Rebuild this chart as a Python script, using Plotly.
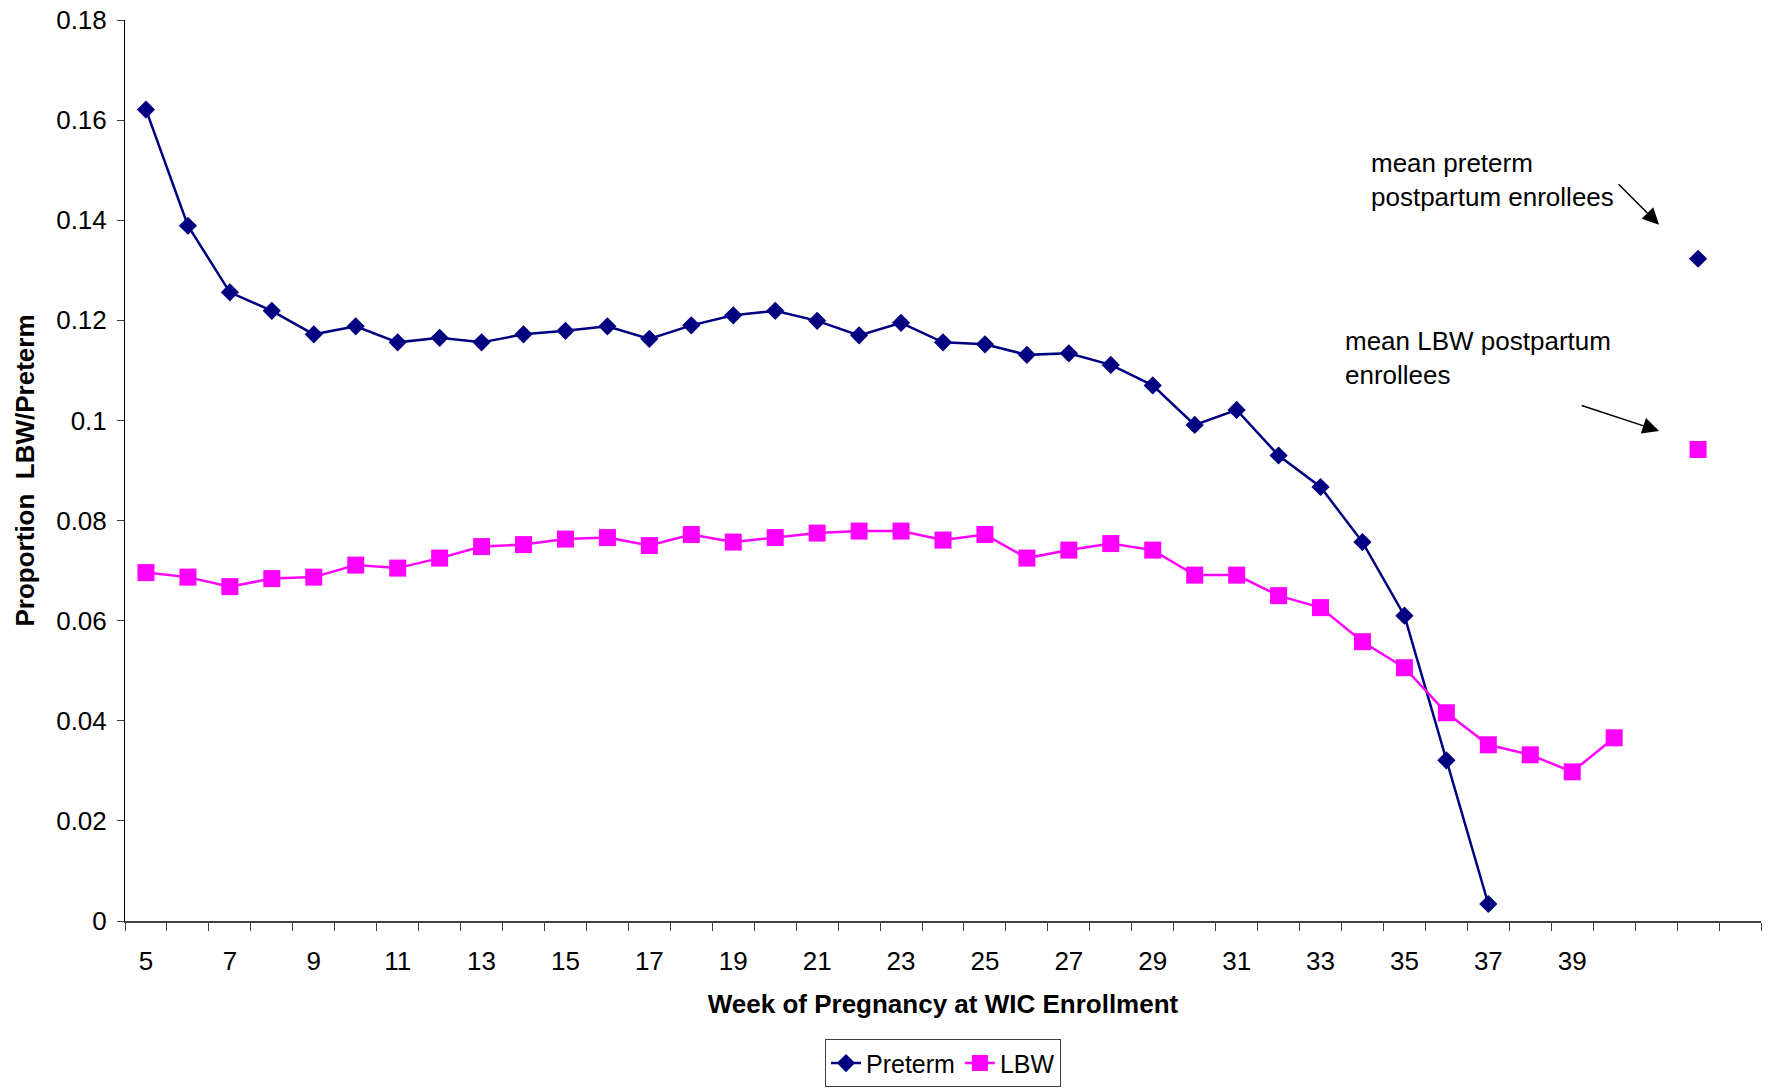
import plotly.graph_objects as go

# Week of pregnancy at WIC enrollment
weeks_preterm = list(range(5, 38))
preterm = [0.1621, 0.1389, 0.1256, 0.1219, 0.1172, 0.1188, 0.1156, 0.1165, 0.1156, 0.1172,
           0.1179, 0.1188, 0.1163, 0.1190, 0.1210, 0.1219, 0.1199, 0.1170, 0.1195, 0.1156,
           0.1152, 0.1131, 0.1134, 0.1111, 0.1070, 0.0991, 0.1021, 0.0930, 0.0867, 0.0757,
           0.0610, 0.0321, 0.0034]

weeks_lbw = list(range(5, 41))
lbw = [0.0696, 0.0687, 0.0668, 0.0684, 0.0687, 0.0711, 0.0705, 0.0725, 0.0748, 0.0752,
       0.0763, 0.0766, 0.0750, 0.0772, 0.0757, 0.0766, 0.0775, 0.0779, 0.0779, 0.0761,
       0.0772, 0.0725, 0.0741, 0.0754, 0.0741, 0.0691, 0.0691, 0.0650, 0.0626, 0.0558,
       0.0506, 0.0416, 0.0352, 0.0332, 0.0298, 0.0366]

# Means for postpartum enrollees, shown apart from the weekly series
postpartum_pos = 42
mean_preterm_postpartum = 0.1323
mean_lbw_postpartum = 0.0942

x_tick_vals = list(range(5, 40, 2))
y_tick_vals = [0, 0.02, 0.04, 0.06, 0.08, 0.1, 0.12, 0.14, 0.16, 0.18]
y_tick_text = ["0", "0.02", "0.04", "0.06", "0.08", "0.1", "0.12", "0.14", "0.16", "0.18"]

NAVY = "#000080"
MAGENTA = "#FF00FF"
FONT = "Arial, Liberation Sans, sans-serif"
FS = 26

fig = go.Figure()
fig.add_trace(go.Scatter(
    x=weeks_preterm, y=preterm, name="Preterm", mode="lines+markers",
    line=dict(color=NAVY, width=2.5),
    marker=dict(symbol="diamond", size=14, color=NAVY),
))
fig.add_trace(go.Scatter(
    x=weeks_lbw, y=lbw, name="LBW", mode="lines+markers",
    line=dict(color=MAGENTA, width=2.5),
    marker=dict(symbol="square", size=17, color=MAGENTA),
))
fig.add_trace(go.Scatter(
    x=[postpartum_pos], y=[mean_preterm_postpartum], mode="markers", showlegend=False,
    marker=dict(symbol="diamond", size=14, color=NAVY),
))
fig.add_trace(go.Scatter(
    x=[postpartum_pos], y=[mean_lbw_postpartum], mode="markers", showlegend=False,
    marker=dict(symbol="square", size=17, color=MAGENTA),
))

annotations = [
    dict(x=34.15, y=0.148, xref="x", yref="y", xanchor="left", yanchor="middle", align="left",
         text="mean preterm<br>postpartum enrollees", showarrow=False,
         font=dict(family=FONT, size=FS, color="black")),
    dict(x=33.54, y=0.1124, xref="x", yref="y", xanchor="left", yanchor="middle", align="left",
         text="mean LBW postpartum<br>enrollees", showarrow=False,
         font=dict(family=FONT, size=FS, color="black")),
    dict(x=41.07, y=0.1391, ax=40.07, ay=0.1475, xref="x", yref="y", axref="x", ayref="y",
         text="", showarrow=True, arrowhead=2, arrowsize=2.2, arrowwidth=1.5, arrowcolor="black"),
    dict(x=41.07, y=0.0979, ax=39.19, ay=0.1031, xref="x", yref="y", axref="x", ayref="y",
         text="", showarrow=True, arrowhead=2, arrowsize=2.2, arrowwidth=1.5, arrowcolor="black"),
]

fig.update_layout(
    width=1772, height=1090,
    margin=dict(l=125, r=11, t=20, b=169, autoexpand=False),
    paper_bgcolor="white", plot_bgcolor="white",
    font=dict(family=FONT, size=FS, color="black"),
    showlegend=True,
    legend=dict(orientation="h", x=0.5, xanchor="center", y=-0.158, yanchor="middle",
                bordercolor="#404040", borderwidth=1, font=dict(size=25),
                tracegroupgap=0),
    annotations=annotations,
)

fig.update_xaxes(
    range=[4.5, 43.5], showgrid=False, zeroline=False,
    showline=True, linecolor="#404040", linewidth=1.5,
    tickvals=x_tick_vals, ticktext=[str(v) for v in x_tick_vals],
    ticks="outside", ticklen=16, tickcolor="rgba(0,0,0,0)",
    tickfont=dict(size=FS),
    minor=dict(tickvals=[w + 0.5 for w in range(4, 44)], ticks="outside",
               ticklen=8, tickcolor="#404040", tickwidth=1),
    title=dict(text="<b>Week of Pregnancy at WIC Enrollment</b>", standoff=20,
               font=dict(size=FS)),
)
fig.update_yaxes(
    range=[0, 0.18], showgrid=False, zeroline=False,
    showline=True, linecolor="black", linewidth=1,
    tickvals=y_tick_vals, ticktext=y_tick_text,
    ticks="outside", ticklen=7, tickcolor="#404040", ticklabelstandoff=5,
    tickfont=dict(size=FS),
    title=dict(text="<b>Proportion\u00a0 LBW/Preterm</b>", standoff=14,
               font=dict(size=FS)),
)

fig.write_html("out.html")
